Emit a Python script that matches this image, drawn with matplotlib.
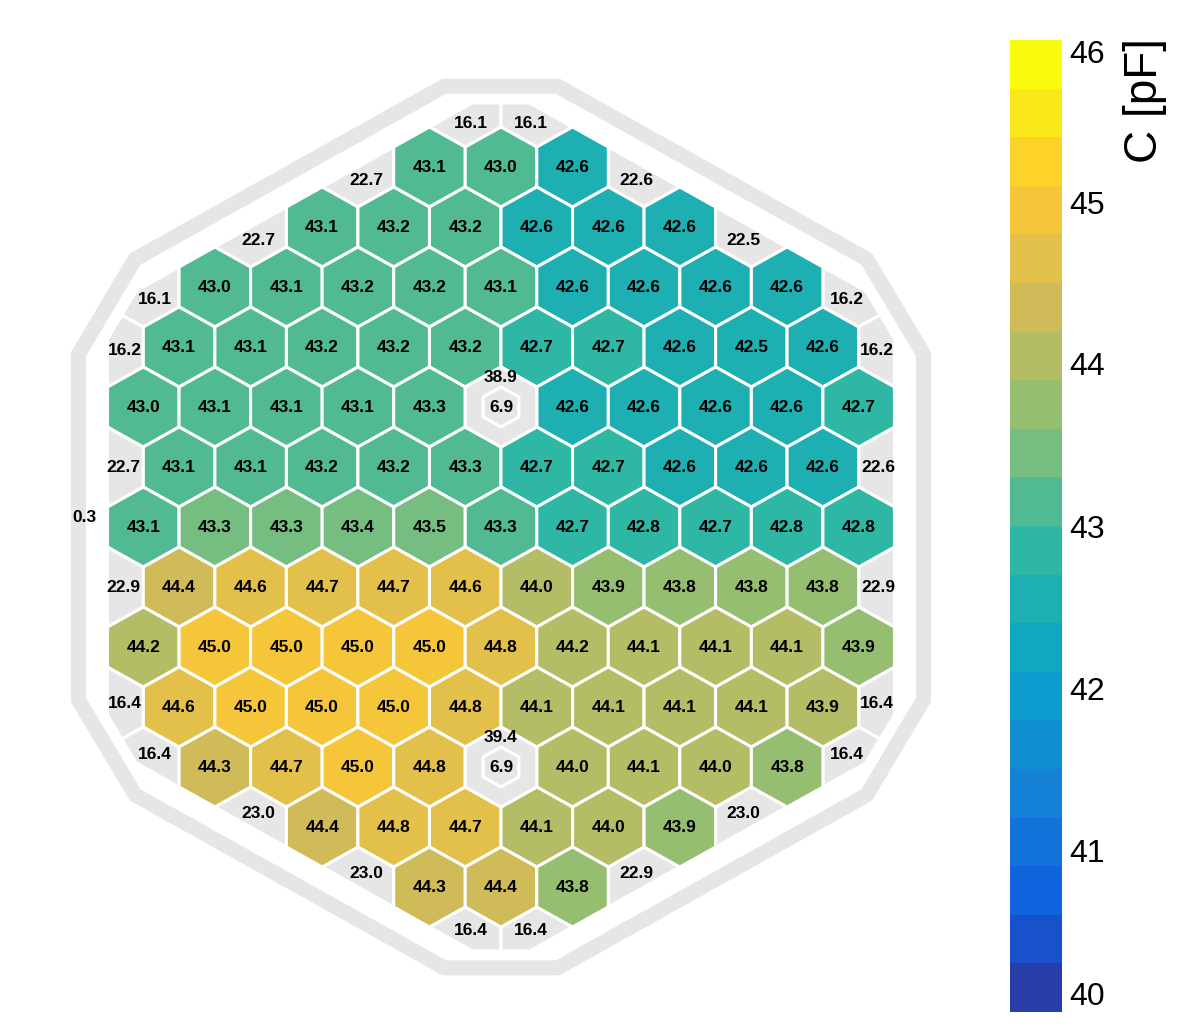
import numpy as np
import matplotlib
matplotlib.use("Agg")
import matplotlib.pyplot as plt
from matplotlib.patches import Polygon
from matplotlib.colors import ListedColormap, BoundaryNorm, LinearSegmentedColormap

plt.rcParams['font.family'] = ['Liberation Sans', 'DejaVu Sans']

# full cells: row from top, first column (half-cell steps), values (nan = calibration cell)
# values estimated to two decimals where the colour shows which side of a level they fall
row_start = [-2, -5, -8, -9, -10, -9, -10, -9, -10, -9, -8, -5, -2]
row_values = [
    [43.1, 43.0, 42.6],
    [43.1, 43.2, 43.2, 42.6, 42.6, 42.6],
    [43.0, 43.1, 43.2, 43.2, 43.1, 42.6, 42.6, 42.6, 42.6],
    [43.1, 43.1, 43.2, 43.2, 43.2, 42.7, 42.7, 42.6, 42.5, 42.6],
    [43.0, 43.1, 43.1, 43.1, 43.28, np.nan, 42.6, 42.6, 42.6, 42.6, 42.7],
    [43.1, 43.1, 43.2, 43.2, 43.28, 42.7, 42.7, 42.6, 42.6, 42.6],
    [43.1, 43.3, 43.3, 43.4, 43.5, 43.28, 42.7, 42.8, 42.7, 42.8, 42.8],
    [44.4, 44.6, 44.7, 44.7, 44.6, 44.0, 43.88, 43.8, 43.8, 43.8],
    [44.18, 45.0, 45.0, 45.0, 45.0, 44.78, 44.18, 44.1, 44.1, 44.1, 43.88],
    [44.6, 45.0, 45.0, 45.0, 44.78, 44.1, 44.1, 44.1, 44.1, 43.9],
    [44.3, 44.7, 45.0, 44.78, np.nan, 44.0, 44.1, 44.0, 43.8],
    [44.4, 44.78, 44.7, 44.1, 44.0, 43.88],
    [44.3, 44.4, 43.8],
]

# calibration cells
calib_row = [4, 10]
calib_col = [0, 0]
calib_outer = [38.9, 39.4]
calib_inner = [6.9, 6.9]

# partial (edge) cells
partial_row = [-1, -1, 0, 0, 1, 1, 2, 2, 3, 3, 5, 5, 6, 7, 7, 9, 9, 10, 10, 11, 11, 12, 12, 13, 13]
partial_col = [-1, 1, -4, 4, -7, 7, -10, 10, -11, 11, -11, 11, -12, -11, 11, -11, 11, -10, 10, -7, 7, -4, 4, -1, 1]
partial_val = [16.1, 16.1, 22.7, 22.6, 22.7, 22.5, 16.1, 16.2, 16.2, 16.2, 22.7, 22.6, 0.3,
               22.9, 22.9, 16.4, 16.4, 16.4, 16.4, 23.0, 23.0, 23.0, 22.9, 16.4, 16.4]

zmin, zmax, nlev = 40.0, 46.0, 20
levels = np.linspace(zmin, zmax, nlev + 1)

# ROOT kBird palette
stops = [0.0, 0.125, 0.25, 0.375, 0.5, 0.625, 0.75, 0.875, 1.0]
red = [0.2082, 0.0592, 0.0780, 0.0232, 0.1802, 0.5301, 0.8186, 0.9956, 0.9764]
green = [0.1664, 0.3599, 0.5041, 0.6419, 0.7178, 0.7492, 0.7328, 0.7862, 0.9832]
blue = [0.5293, 0.8684, 0.8385, 0.7914, 0.6425, 0.4662, 0.3499, 0.1968, 0.0539]
bird = LinearSegmentedColormap.from_list(
    'bird', list(zip(stops, zip(red, green, blue))))
lev_colors = [bird((i + 0.99) / nlev) for i in range(nlev)]
cmap = ListedColormap(lev_colors)
norm = BoundaryNorm(levels, nlev)

GRAY = '#e6e6e6'
SQ3 = np.sqrt(3.0)


def cell_center(row, k):
    return k * SQ3 / 2, (6 - row) * 1.5


def hexagon(cx, cy, s=1.0):
    a = np.deg2rad(90 + 60 * np.arange(6))
    return np.column_stack([cx + s * np.cos(a), cy + s * np.sin(a)])


def half_planes(apothem, cut):
    ang = np.deg2rad(np.arange(0, 360, 30))
    normals = np.column_stack([np.cos(ang), np.sin(ang)])
    offs = np.array([apothem if i % 2 == 0 else cut for i in range(12)])
    return normals, offs


def polygon_from_planes(normals, offs):
    pts = []
    n = len(offs)
    for i in range(n):
        A = np.array([normals[i], normals[(i + 1) % n]])
        b = np.array([offs[i], offs[(i + 1) % n]])
        pts.append(np.linalg.solve(A, b))
    return np.array(pts)


def clip(poly, normals, offs):
    poly = list(poly)
    for nv, d in zip(normals, offs):
        out = []
        m = len(poly)
        for i in range(m):
            P = np.asarray(poly[i]); Q = np.asarray(poly[(i + 1) % m])
            fp = nv @ P - d; fq = nv @ Q - d
            if fp <= 0:
                out.append(P)
            if fp * fq < 0:
                out.append(P + fp / (fp - fq) * (Q - P))
        poly = out
        if len(poly) < 3:
            return np.empty((0, 2))
    return np.array(poly)


def centroid(poly):
    x, y = poly[:, 0], poly[:, 1]
    x1, y1 = np.roll(x, -1), np.roll(y, -1)
    cr = x * y1 - x1 * y
    area = cr.sum() / 2
    return (x + x1) @ cr / (6 * area), (y + y1) @ cr / (6 * area), area


def level_color(v):
    i = int(np.floor((v - zmin) / (zmax - zmin) * nlev + 1e-6))
    i = min(max(i, 0), nlev - 1)
    return lev_colors[i]


fig = plt.figure(figsize=(11.82, 10.34), dpi=100)
ax = fig.add_axes([0, 0, 1, 1])
ax.set_xlim(-501 / 41.3, 681 / 41.3)
ax.set_ylim(-507 / 40.0, 527 / 40.0)
ax.axis('off')

lw_cell = 2.2
lab_kw = dict(ha='center', va='center', fontsize=12.5, fontweight='bold', color='black')

# outer ring
ring_n, ring_d = half_planes(10.23, 11.02)
ring = polygon_from_planes(ring_n, ring_d)
ax.add_patch(Polygon(ring, closed=True, fill=False, edgecolor=GRAY,
                     lw=10.8, joinstyle='miter'))

# sensor boundary
sens_n, sens_d = half_planes(5.5 * SQ3, 10.6)

# partial cells
for r, k, v in zip(partial_row, partial_col, partial_val):
    cx, cy = cell_center(r, k)
    pc = clip(hexagon(cx, cy), sens_n, sens_d)
    if len(pc) >= 3:
        gx, gy, area = centroid(pc)
    else:
        area = 0
    if area > 0.05:
        ax.add_patch(Polygon(pc, closed=True, facecolor=GRAY,
                             edgecolor='white', lw=lw_cell))
        ax.text(gx, gy, f'{v:.1f}', **lab_kw)
    else:
        ax.text(cx + 0.3, cy + 0.25, f'{v:.1f}', **lab_kw)

# full cells
for r, (k0, vals) in enumerate(zip(row_start, row_values)):
    for j, v in enumerate(vals):
        if np.isnan(v):
            continue
        cx, cy = cell_center(r, k0 + 2 * j)
        ax.add_patch(Polygon(hexagon(cx, cy), closed=True,
                             facecolor=level_color(v), edgecolor='white', lw=lw_cell))
        ax.text(cx, cy, f'{v:.1f}', **lab_kw)

# calibration cells
for r, k, vo, vi in zip(calib_row, calib_col, calib_outer, calib_inner):
    cx, cy = cell_center(r, k)
    ax.add_patch(Polygon(hexagon(cx, cy), closed=True, facecolor=GRAY,
                         edgecolor='white', lw=lw_cell))
    ax.add_patch(Polygon(hexagon(cx, cy, 0.5), closed=True, facecolor=GRAY,
                         edgecolor='white', lw=lw_cell))
    ax.text(cx, cy, f'{vi:.1f}', **lab_kw)
    ax.text(cx, cy + 0.75, f'{vo:.1f}', **lab_kw)

# colour bar
cax = fig.add_axes([1010 / 1182, 22 / 1034, 52 / 1182, 972 / 1034])
sm = plt.cm.ScalarMappable(norm=norm, cmap=cmap)
cb = fig.colorbar(sm, cax=cax, ticks=np.arange(40, 47))
cb.outline.set_visible(False)
cax.minorticks_off()
cax.tick_params(which='both', length=0, labelsize=23, pad=5)
cb.set_ticklabels([str(t) for t in range(40, 47)])
tl = cax.get_yticklabels()
tl[0].set_verticalalignment('bottom')
tl[-1].set_verticalalignment('top')

fig.text(1145 / 1182, 1 - 38 / 1034, 'C [pF]', rotation=90, ha='center', va='top',
         fontsize=33)

fig.savefig('out.png', dpi=100)
